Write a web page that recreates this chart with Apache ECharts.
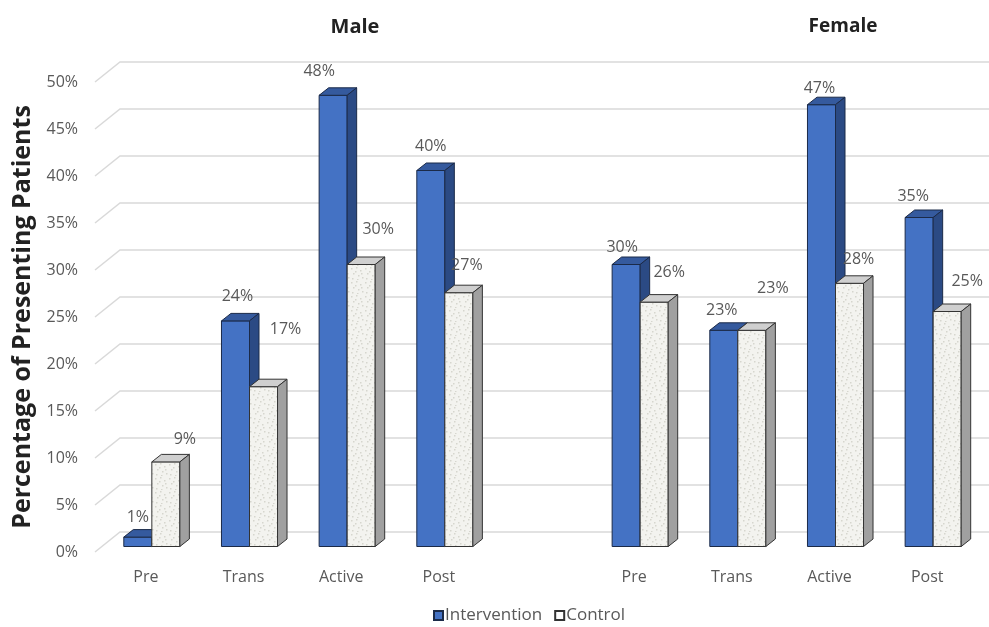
<!DOCTYPE html>
<html>
<head>
<meta charset="utf-8">
<script src="https://cdn.jsdelivr.net/npm/echarts@6/dist/echarts.min.js"></script>
<style>html,body{margin:0;padding:0;background:#fff}#c{width:989px;height:627px}</style>
</head>
<body>
<div id="c"></div>
<script>
// ---- data ----
const groups = ['Male', 'Female'];
const categories = ['Pre', 'Trans', 'Active', 'Post'];
const maleIntervention = [1, 24, 48, 40];
const maleControl = [9, 17, 30, 27];
const femaleIntervention = [30, 23, 47, 35];
const femaleControl = [26, 23, 28, 25];
const yTicks = [0, 5, 10, 15, 20, 25, 30, 35, 40, 45, 50];

// ---- label placement (style, not data) ----
const intLabelOffset = [[0,-20],[2,-24],[-14,-24],[0,-24],[-4,-17],[-2,-20],[-2,-16],[-6,-21]];
const ctlLabelOffset = [[5,-22],[8,-57],[3,-35],[-6,-27],[1,-30],[7,-42],[-5,-24],[6,-30]];

const xLabels = categories.concat([''], categories);
const intData = maleIntervention.map((v,i)=>[i,v]).concat(femaleIntervention.map((v,i)=>[i+5,v]));
const ctlData = maleControl.map((v,i)=>[i,v]).concat(femaleControl.map((v,i)=>[i+5,v]));

// speckle texture for control bars (fixed pattern)
const pc = document.createElement('canvas');
pc.width = 14; pc.height = 14;
const g = pc.getContext('2d');
g.fillStyle = '#f3f3ef'; g.fillRect(0,0,14,14);
g.fillStyle = '#d6d6ce';
[[1,2],[6,1],[10,4],[3,7],[8,9],[12,11],[2,12],[5,5],[11,7],[7,13]].forEach(p=>g.fillRect(p[0],p[1],1.5,1.5));
const ctlPattern = {image: pc, repeat: 'repeat'};

const DX = 9.5, DY = -7.5, YOFF = -5.5;
const FONT = '"Open Sans", "Noto Sans", sans-serif';
const LABEL_COLOR = '#595959';

function barRenderer(kind) {
  const pal = kind === 'int'
    ? {front:'#4472c4', top:'#355a9e', side:'#2b4a84', stroke:'#1b2a48'}
    : {front: ctlPattern, top:'#cfcfcf', side:'#a0a0a0', stroke:'#333333'};
  const offs = kind === 'int' ? intLabelOffset : ctlLabelOffset;
  return function(params, api) {
    const c = api.coord([api.value(0), api.value(1)]);
    const b = api.coord([api.value(0), 0]);
    const slot = api.size([1,0])[0];
    const w = slot * 0.287;
    const xl = kind === 'int' ? c[0] - w : c[0];
    const top = c[1] + YOFF, base = b[1] + YOFF;
    const sw = 1;
    const o = offs[params.dataIndex];
    const lx = kind === 'int' ? xl + w/2 + o[0] : xl + w + o[0];
    return {
      type: 'group',
      children: [
        {type:'rect', shape:{x:xl, y:top, width:w, height:base-top}, style:{fill:pal.front, stroke:pal.stroke, lineWidth:sw}},
        {type:'polygon', shape:{points:[[xl,top],[xl+DX,top+DY],[xl+w+DX,top+DY],[xl+w,top]]}, style:{fill:pal.top, stroke:pal.stroke, lineWidth:sw}},
        {type:'polygon', shape:{points:[[xl+w,top],[xl+w+DX,top+DY],[xl+w+DX,base+DY],[xl+w,base]]}, style:{fill:pal.side, stroke:pal.stroke, lineWidth:sw}},
        {type:'text', style:{text: api.value(1) + '%', x: lx, y: top + o[1], align:'center', verticalAlign:'middle', fill: LABEL_COLOR, fontSize: 16, fontFamily: FONT}}
      ]
    };
  };
}

const chart = echarts.init(document.getElementById('c'), null, {renderer:'canvas'});
chart.setOption({
  animation: false,
  backgroundColor: '#fff',
  textStyle: {fontFamily: FONT},
  title: [
    {text: groups[0], left: 350, top: 12, textAlign: 'center', textStyle:{fontSize:20, fontWeight:'bold', color:'#222', fontFamily: FONT}},
    {text: groups[1], left: 838, top: 12, textAlign: 'center', textStyle:{fontSize:19, fontWeight:'bold', color:'#222', fontFamily: FONT}}
  ],
  grid: {left: 103, right: 7, top: 82, bottom: 75},
  legend: {
    data: ['Intervention', 'Control'],
    bottom: 3, left: 433, padding: 0,
    itemWidth: 9, itemHeight: 9, itemGap: 12, icon: 'rect',
    textStyle: {color: LABEL_COLOR, fontSize: 17, fontFamily: FONT, padding:[0,0,0,-3]}
  },
  xAxis: {
    type: 'category', data: xLabels, boundaryGap: true,
    axisLine: {show:false}, axisTick: {show:false},
    axisLabel: {color: LABEL_COLOR, fontSize: 16, margin: 17, padding: [0,12,0,0], interval: 0}
  },
  yAxis: {
    type: 'value', min: 0, max: 50, interval: 5,
    name: 'Percentage of Presenting Patients', nameLocation: 'middle', nameGap: 68,
    nameTextStyle: {fontSize: 25, fontWeight: 'bold', color: '#222', fontFamily: FONT, padding: [0, 0, 0, 0]},
    axisLine: {show:false}, axisTick: {show:false}, splitLine: {show:false},
    axisLabel: {color: LABEL_COLOR, fontSize: 16, margin: 25, formatter: '{value}%'}
  },
  series: [
    {
      type: 'custom', name: 'gridlines', z: 1, silent: true,
      data: yTicks.map(v => [0, v]),
      renderItem: function(params, api) {
        const p = api.coord([0, api.value(1)]);
        const x0 = 95, y = p[1];
        return {type:'polyline', shape:{points:[[x0, y],[x0+25, y-20],[api.getWidth(), y-20]]},
          style:{fill:null, stroke:'#d9d9d9', lineWidth:1.5}};
      }
    },
    {type:'custom', name:'Intervention', z: 2, data: intData, renderItem: barRenderer('int'),
      itemStyle:{color:'#4472c4', borderColor:'#1b2a48', borderWidth:1}},
    {type:'custom', name:'Control', z: 3, data: ctlData, renderItem: barRenderer('ctl'),
      itemStyle:{color:'#ffffff', borderColor:'#333333', borderWidth:1}}
  ]
});
</script>
</body>
</html>
